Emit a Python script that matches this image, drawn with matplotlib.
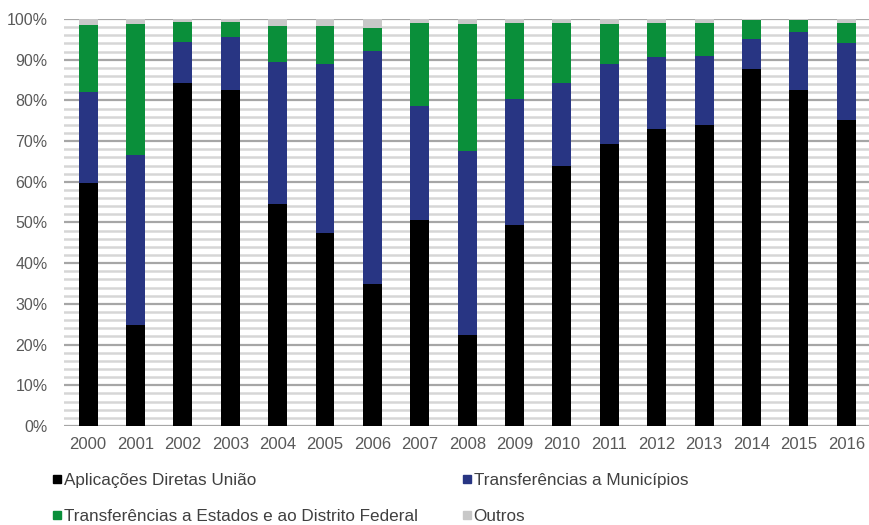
import matplotlib
matplotlib.use("Agg")
import matplotlib.pyplot as plt
from matplotlib.lines import Line2D
import numpy as np

plt.rcParams['font.family'] = ['Liberation Sans', 'DejaVu Sans']

years = ["2000", "2001", "2002", "2003", "2004", "2005", "2006", "2007", "2008",
         "2009", "2010", "2011", "2012", "2013", "2014", "2015", "2016"]

# Shares of spending by modality (%), each year sums to 100
aplicacoes_uniao = [59.7, 24.8, 84.3, 82.6, 54.5, 47.4, 34.9, 50.5, 22.3,
                    49.4, 63.9, 69.4, 72.9, 74.0, 87.7, 82.6, 75.2]
transf_municipios = [22.3, 41.8, 10.1, 13.0, 35.0, 41.5, 57.2, 28.2, 45.2,
                     31.0, 20.4, 19.5, 17.7, 16.9, 7.3, 14.1, 18.9]
transf_estados = [16.5, 32.2, 4.9, 3.7, 8.7, 9.5, 5.8, 20.4, 31.3,
                  18.7, 14.8, 9.9, 8.5, 8.2, 4.8, 3.1, 5.0]
outros = [100 - a - b - c for a, b, c in zip(aplicacoes_uniao, transf_municipios, transf_estados)]

series = [
    ("Aplicações Diretas União", aplicacoes_uniao, "#000000"),
    ("Transferências a Municípios", transf_municipios, "#283583"),
    ("Transferências a Estados e ao Distrito Federal", transf_estados, "#0a8f3a"),
    ("Outros", outros, "#c8c8c8"),
]

fig = plt.figure(figsize=(8.7, 5.25), dpi=100)
ax = fig.add_axes([0.074, 0.1886, 0.926, 0.7752])

x = np.arange(len(years))
bottom = np.zeros(len(years))
for label, vals, color in series:
    vals = np.array(vals)
    ax.bar(x, vals, width=0.4, bottom=bottom, color=color, zorder=3, label=label)
    bottom += vals

ax.set_xlim(-0.5, len(years) - 0.5)
ax.set_ylim(0, 100)

# grid: light lines every 2 %, darker every 10 %
for v in range(0, 101, 2):
    if v % 10 == 0:
        ax.axhline(v, color="#a6a6a6", lw=1.6, zorder=1)
    else:
        ax.axhline(v, color="#d6d6d6", lw=1.8, zorder=1)

ax.set_yticks(range(0, 101, 10))
ax.set_yticklabels([f"{v}%" for v in range(0, 101, 10)])
ax.set_xticks(x)
ax.set_xticklabels(years)
ax.tick_params(axis="both", length=0, colors="#595959")
ax.tick_params(axis="y", pad=12, labelsize=11.5)
ax.tick_params(axis="x", pad=8, labelsize=12)
for s in ax.spines.values():
    s.set_visible(False)

order = [0, 2, 1, 3]
handles = [Line2D([], [], marker="s", linestyle="none", markersize=6,
                  markerfacecolor=series[i][2], markeredgecolor=series[i][2]) for i in order]
labels = [series[i][0] for i in order]
fig.legend(handles, labels, loc="upper left", bbox_to_anchor=(0.053, 0.112),
           ncol=2, frameon=False, fontsize=12.3, labelcolor="#404040",
           handlelength=0.5, handletextpad=0.15, columnspacing=2.6,
           labelspacing=1.25, borderaxespad=0)

fig.savefig("out.png", dpi=100, facecolor="white")
